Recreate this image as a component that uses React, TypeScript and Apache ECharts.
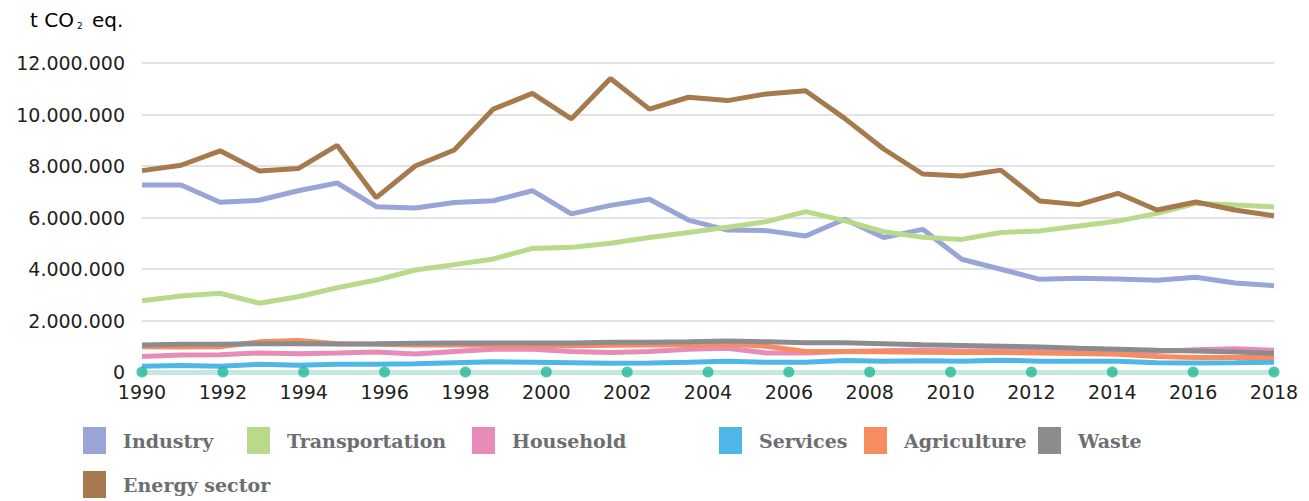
import React, { useEffect, useRef } from "react";
import * as echarts from "echarts";

const CATEGORIES = [
  "1990", "1991", "1992", "1993", "1994", "1995", "1996", "1997", "1998", "1999",
  "2000", "2001", "2002", "2003", "2004", "2005", "2006", "2007", "2008", "2009",
  "2010", "2011", "2012", "2013", "2014", "2015", "2016", "2017", "2018", "2019",
];

const TICK_YEARS = [1990, 1992, 1994, 1996, 1998, 2000, 2002, 2004, 2006, 2008, 2010, 2012, 2014, 2016, 2018];

const INDUSTRY = [
  7.26, 7.26, 6.59, 6.67, 7.04, 7.34, 6.42, 6.37, 6.58, 6.65,
  7.04, 6.14, 6.47, 6.71, 5.9, 5.51, 5.49, 5.28, 5.93, 5.22,
  5.54, 4.38, 3.99, 3.6, 3.64, 3.61, 3.56, 3.68, 3.46, 3.35,
];
const TRANSPORTATION = [
  2.77, 2.95, 3.06, 2.67, 2.92, 3.27, 3.57, 3.96, 4.17, 4.39,
  4.8, 4.84, 5.0, 5.22, 5.42, 5.62, 5.84, 6.23, 5.88, 5.45,
  5.23, 5.15, 5.42, 5.48, 5.67, 5.86, 6.16, 6.55, 6.49, 6.41,
];
const HOUSEHOLD = [
  0.6, 0.66, 0.67, 0.74, 0.71, 0.74, 0.78, 0.7, 0.8, 0.88,
  0.88, 0.8, 0.76, 0.8, 0.88, 0.92, 0.74, 0.74, 0.8, 0.83,
  0.85, 0.82, 0.83, 0.8, 0.78, 0.78, 0.8, 0.86, 0.9, 0.84,
];
const SERVICES = [
  0.22, 0.25, 0.22, 0.3, 0.26, 0.3, 0.3, 0.32, 0.36, 0.4,
  0.38, 0.36, 0.34, 0.35, 0.38, 0.42, 0.38, 0.38, 0.45, 0.42,
  0.44, 0.42, 0.46, 0.42, 0.42, 0.42, 0.36, 0.35, 0.36, 0.38,
];
const AGRICULTURE = [
  0.98, 0.97, 0.98, 1.17, 1.22, 1.1, 1.08, 1.05, 1.05, 1.05,
  1.03, 1.02, 1.04, 1.05, 1.06, 1.08, 1.0, 0.8, 0.8, 0.79,
  0.77, 0.76, 0.76, 0.74, 0.72, 0.69, 0.6, 0.56, 0.56, 0.56,
];
const WASTE = [
  1.05, 1.08, 1.08, 1.1, 1.1, 1.09, 1.1, 1.12, 1.13, 1.13,
  1.13, 1.13, 1.16, 1.16, 1.17, 1.2, 1.17, 1.14, 1.14, 1.1,
  1.06, 1.03, 1.0, 0.97, 0.92, 0.88, 0.84, 0.82, 0.78, 0.73,
];
const ENERGY = [
  7.82, 8.03, 8.59, 7.81, 7.9, 8.8, 6.77, 8.0, 8.62, 10.21,
  10.82, 9.83, 11.4, 10.21, 10.67, 10.54, 10.8, 10.92, 9.85, 8.66,
  7.69, 7.61, 7.84, 6.64, 6.5, 6.94, 6.29, 6.6, 6.29, 6.07,
];

const SERIES_NAMES = ["Industry", "Transportation", "Household", "Services", "Agriculture", "Waste", "Energy sector"];
const SERIES_VALUES = [INDUSTRY, TRANSPORTATION, HOUSEHOLD, SERVICES, AGRICULTURE, WASTE, ENERGY];
const COLORS = ["#98a5d6", "#b9da8b", "#e78bb8", "#4fb6e8", "#f68c5f", "#8c8c8e", "#a77a4e"];

const LEGEND_POS = [
  [83, 427], [247, 427], [472, 427], [719, 427], [864, 427], [1038, 427], [83, 471],
];

const fmt = (v: number) => String(Math.round(v)).replace(/\B(?=(\d{3})+(?!\d))/g, ".");

export default function App() {
  const ref = useRef<HTMLDivElement>(null);
  useEffect(() => {
    if (!ref.current) return;
    const chart = echarts.init(ref.current, undefined, { renderer: "svg" });
    const axisFont = "DejaVu Sans";
    const lineSeries = SERIES_NAMES.map((name, i) => ({
      name,
      type: "line",
      xAxisIndex: 0,
      yAxisIndex: 0,
      data: SERIES_VALUES[i].map((v) => v * 1e6),
      symbol: "none",
      lineStyle: { width: 5, color: COLORS[i] },
      itemStyle: { color: COLORS[i] },
      z: 3,
    }));
    chart.setOption({
      animation: false,
      grid: { left: 142, right: 35, top: 63, bottom: 129 },
      legend: SERIES_NAMES.map((name, i) => ({
        data: [name],
        left: LEGEND_POS[i][0],
        top: LEGEND_POS[i][1],
        padding: 0,
        icon: "rect",
        itemWidth: 23,
        itemHeight: 27,
        selectedMode: false,
        textStyle: {
          fontFamily: "DejaVu Serif",
          fontWeight: "bold",
          fontSize: 19,
          color: "#6d6e71",
          padding: [0, 0, 0, 12],
        },
      })),
      graphic: [
        {
          type: "text",
          left: 30,
          top: 10,
          style: {
            text: "{a|t CO}{s|2}{a| eq.}",
            rich: {
              a: { fontFamily: axisFont, fontSize: 20, color: "#231f20", lineHeight: 26, verticalAlign: "bottom" },
              s: { fontFamily: axisFont, fontSize: 9, color: "#231f20", lineHeight: 22, verticalAlign: "bottom", padding: [0, 3, 0, 3] },
            },
          },
        },
      ],
      xAxis: [
        {
          type: "category",
          data: CATEGORIES,
          boundaryGap: false,
          show: false,
        },
        {
          type: "value",
          min: 1990,
          max: 2018,
          interval: 2,
          position: "bottom",
          axisLine: { show: true, onZero: false, lineStyle: { color: "#c6e7db", width: 5 } },
          axisTick: { show: false },
          splitLine: { show: false },
          axisLabel: {
            margin: 10,
            fontFamily: axisFont,
            fontSize: 19,
            color: "#231f20",
            formatter: (v: number) => String(v),
          },
        },
      ],
      yAxis: {
        type: "value",
        min: 0,
        max: 12e6,
        interval: 2e6,
        axisLine: { show: false },
        axisTick: { show: false },
        splitLine: { lineStyle: { color: "#d9d9d9", width: 1.5 } },
        axisLabel: {
          margin: 17,
          fontFamily: axisFont,
          fontSize: 19,
          color: "#231f20",
          formatter: (v: number) => fmt(v),
        },
      },
      series: [
        ...lineSeries,
        {
          name: "ticks",
          type: "scatter",
          xAxisIndex: 1,
          yAxisIndex: 0,
          data: TICK_YEARS.map((y) => [y, 0]),
          symbol: "circle",
          symbolSize: 11,
          itemStyle: { color: "#22b99b" },
          z: 5,
          silent: true,
        },
      ],
    });
    return () => chart.dispose();
  }, []);
  return <div ref={ref} style={{ width: 1309, height: 501, marginLeft: -8, marginTop: -8 }} />;
}
